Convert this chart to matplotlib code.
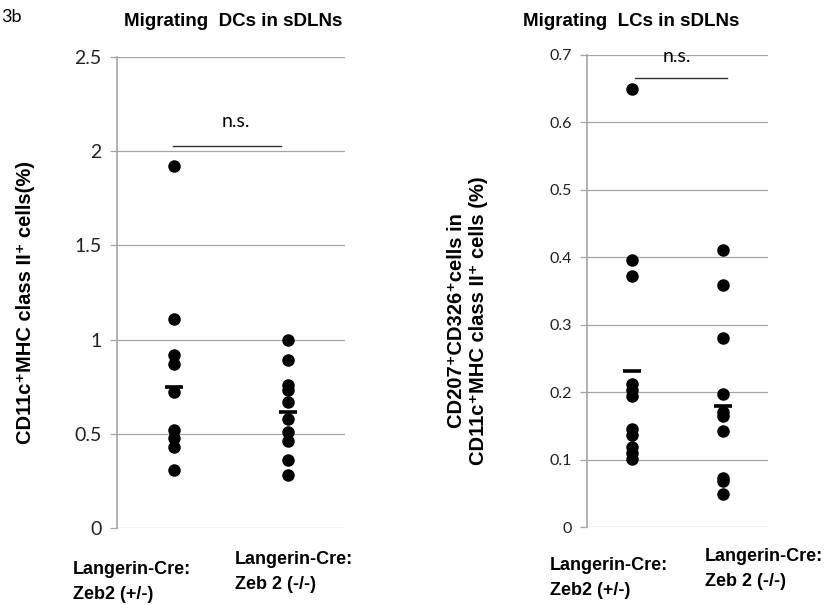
import matplotlib
matplotlib.use("Agg")
import matplotlib.pyplot as plt

# Migrating DCs in sDLNs (%)
dc_het = [1.92, 1.11, 0.92, 0.87, 0.72, 0.52, 0.48, 0.43, 0.31]
dc_ko = [1.00, 0.89, 0.76, 0.73, 0.67, 0.58, 0.51, 0.46, 0.36, 0.28]
dc_means = [0.75, 0.615]

# Migrating LCs in sDLNs (%)
lc_het = [0.649, 0.396, 0.373, 0.212, 0.203, 0.195, 0.145, 0.137, 0.119, 0.110, 0.101]
lc_ko = [0.411, 0.359, 0.281, 0.198, 0.171, 0.165, 0.142, 0.073, 0.068, 0.050]
lc_means = [0.232, 0.179]

group_x = [0.5, 1.5]
group_labels = ["Langerin-Cre:\nZeb2 (+/-)", "Langerin-Cre:\nZeb 2 (-/-)"]

plt.rcParams["font.family"] = ["Lato", "DejaVu Sans"]
bold_font = ["Liberation Sans", "DejaVu Sans"]
grid_col = "#a6a6a6"

fig = plt.figure(figsize=(8.33, 6.05), dpi=100)
ax1 = fig.add_axes([0.1405, 0.1273, 0.2737, 0.7785])
ax2 = fig.add_axes([0.7047, 0.1284, 0.2173, 0.7810])


def style(ax, ymax, step, tick_size):
    ax.set_xlim(0, 2)
    ax.set_ylim(0, ymax)
    ax.set_yticks([i * step for i in range(int(round(ymax / step)) + 1)])
    ax.yaxis.set_major_formatter(plt.FuncFormatter(lambda v, p: f"{v:g}"))
    ax.set_xticks([])
    ax.grid(axis="y", color=grid_col, lw=0.9)
    ax.set_axisbelow(True)
    for s in ["top", "right", "bottom"]:
        ax.spines[s].set_visible(False)
    ax.spines["left"].set_color(grid_col)
    ax.spines["left"].set_linewidth(1.2)
    ax.tick_params(axis="y", length=5, width=0.9, color=grid_col,
                   labelsize=tick_size, labelcolor="#222222", pad=6)


style(ax1, 2.5, 0.5, 14)
style(ax2, 0.7, 0.1, 11.5)

for ax, a, b, means in [(ax1, dc_het, dc_ko, dc_means), (ax2, lc_het, lc_ko, lc_means)]:
    ax.plot([group_x[0]] * len(a), a, "o", color="black", ms=8, clip_on=False, zorder=3)
    ax.plot([group_x[1]] * len(b), b, "o", color="black", ms=8, clip_on=False, zorder=3)
    ax.plot(group_x, means, "_", color="black", ms=13, mew=2.6, zorder=4)

# significance bars
ax1.plot([0.49, 1.44], [2.03, 2.03], color="#333333", lw=1.0)
ax1.text(1.04, 2.155, "n.s.", ha="center", va="center", fontsize=14)
ax2.plot([0.53, 1.547], [0.665, 0.665], color="#333333", lw=1.0)
ax2.text(0.994, 0.697, "n.s.", ha="center", va="center", fontsize=14, clip_on=False)

# titles
fig.text(233 / 833, 1 - 22 / 605, "Migrating  DCs in sDLNs", ha="center", va="center",
         fontsize=13.5, fontweight="bold", family="Liberation Sans")
fig.text(631 / 833, 1 - 22 / 605, "Migrating  LCs in sDLNs", ha="center", va="center",
         fontsize=13.5, fontweight="bold", family="Liberation Sans")
fig.text(1 / 833, 1 - 17 / 605, "3b", ha="left", va="center", fontsize=13)

# y labels
fig.text(26 / 833, 1 - 302 / 605, "CD11c\u207aMHC class II\u207a cells(%)", rotation=90,
         ha="center", va="center", fontsize=14.5, fontweight="bold", family=bold_font)
fig.text(468 / 833, 1 - 321 / 605,
         "CD207\u207aCD326\u207acells in\nCD11c\u207aMHC class II\u207a cells (%)", rotation=90,
         ha="center", va="center", fontsize=14.5, fontweight="bold", family=bold_font,
         linespacing=1.2)

# group labels under each panel
label_pos = [(73, 582), (235, 572), (550, 578), (705, 569)]
for (px, py), lab in zip(label_pos, group_labels * 2):
    fig.text(px / 833, 1 - py / 605, lab, ha="left", va="center", fontsize=13,
             fontweight="bold", family=bold_font, linespacing=1.6)

fig.savefig("out.png", dpi=100)
